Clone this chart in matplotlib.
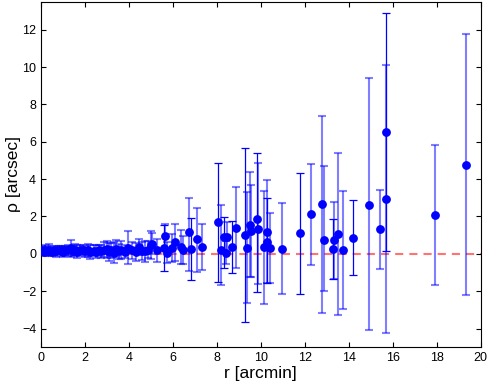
import numpy as np
import matplotlib.pyplot as plt

plt.rcParams['font.family'] = ['Liberation Sans', 'DejaVu Sans']

# inner region (small errors), light error bars
r_in = [0.05, 0.12, 0.2, 0.3, 0.38, 0.5, 0.58, 0.7, 0.8, 0.9, 1.0, 1.1, 1.25, 1.38,
        1.45, 1.55, 1.65, 1.78, 1.9, 2.0, 2.12, 2.25, 2.4, 2.5, 2.62, 2.75, 2.85,
        3.0, 3.08, 3.18, 3.3, 3.42, 3.55, 3.65, 3.8, 3.97, 4.15, 4.3, 4.45, 4.58,
        4.73, 4.85, 4.99]
rho_in = [0.18, 0.12, 0.2, 0.15, 0.22, 0.1, 0.18, 0.14, 0.2, 0.16, 0.12, 0.18, 0.2, 0.3,
          0.15, 0.22, 0.12, 0.18, 0.2, 0.14, 0.2, 0.1, 0.16, 0.12, 0.2, 0.15, 0.22,
          0.25, 0.1, 0.2, 0.07, 0.28, 0.15, 0.2, 0.12, 0.34, 0.2, 0.1, 0.37, 0.15,
          0.14, 0.22, 0.5]
err_in = [0.25, 0.2, 0.3, 0.25, 0.3, 0.2, 0.25, 0.3, 0.2, 0.25, 0.3, 0.25, 0.3, 0.45,
          0.25, 0.3, 0.35, 0.3, 0.25, 0.3, 0.35, 0.4, 0.3, 0.35, 0.3, 0.35, 0.4,
          0.45, 0.5, 0.4, 0.55, 0.45, 0.4, 0.5, 0.35, 0.88, 0.45, 0.5, 0.45, 0.5,
          0.55, 0.45, 0.75]

# outer region, light error bars
r_lt = [5.03, 5.26, 5.64, 5.71, 5.97, 6.09, 6.35, 6.47, 6.73, 7.09, 7.32, 8.18, 8.44,
        8.43, 8.85, 9.35, 9.49, 9.55, 9.88, 10.15, 10.3, 10.41, 10.94, 12.26, 12.8,
        12.86, 13.32, 13.51, 13.76, 14.9, 15.44, 15.69, 17.94, 19.35]
rho_lt = [0.55, 0.18, 0.94, 0.07, 0.29, 0.61, 0.36, 0.23, 1.17, 0.77, 0.36, 0.23, 0.91,
          0.07, 1.4, 0.34, 1.57, 1.23, 1.35, 0.36, 1.19, 0.31, 0.28, 2.15, 2.69,
          0.75, 0.73, 1.05, 0.2, 2.63, 1.31, 2.93, 2.06, 4.78]
lo_lt = [0.55, 0.62, 0.65, 0.55, 0.75, 1.0, 0.9, 0.75, 2.07, 1.73, 1.24, 1.9, 0.8,
         0.6, 2.17, 2.95, 2.8, 2.47, 2.97, 3.02, 2.75, 1.88, 2.42, 2.73, 5.87,
         2.73, 2.05, 4.32, 3.17, 6.72, 2.12, 7.17, 3.75, 7.0]
hi_lt = [0.55, 0.62, 0.65, 0.55, 0.75, 0.97, 0.9, 0.75, 1.81, 1.7, 1.24, 2.41, 0.8,
         0.6, 2.17, 2.95, 2.8, 2.47, 3.49, 3.02, 2.76, 1.88, 2.42, 2.67, 4.67,
         3.97, 2.05, 4.34, 3.17, 6.76, 2.12, 7.19, 3.75, 7.0]

# outer region, solid error bars
r_dk = [5.59, 6.83, 8.06, 8.33, 8.68, 9.29, 9.83, 10.3, 11.79, 13.3, 14.18, 15.71]
rho_dk = [0.32, 0.27, 1.69, 0.88, 0.37, 1.0, 1.89, 0.66, 1.11, 0.27, 0.87, 6.52]
lo_dk = [1.25, 1.67, 3.17, 1.66, 1.38, 4.67, 3.95, 2.22, 3.24, 1.6, 2.0, 6.37]
hi_dk = [1.25, 1.67, 3.15, 1.09, 1.38, 4.67, 3.53, 2.31, 3.24, 1.6, 2.0, 6.37]

fig = plt.figure(figsize=(4.87, 3.86), dpi=100)
ax = fig.add_axes([0.0842, 0.1003, 0.9028, 0.8955])

ax.axhline(0, color=(1, 0.45, 0.45), ls='--', lw=1.5, dashes=(3.9, 2.9), zorder=1)

ax.errorbar(r_in, rho_in, yerr=err_in, fmt='none', ecolor=(0, 0, 1, 0.5),
            elinewidth=1.5, capsize=3.1, capthick=1.5, zorder=2)
ax.errorbar(r_lt, rho_lt, yerr=[lo_lt, hi_lt], fmt='none', ecolor=(0, 0, 1, 0.5),
            elinewidth=1.5, capsize=3.1, capthick=1.5, zorder=2)
ax.errorbar(r_dk, rho_dk, yerr=[lo_dk, hi_dk], fmt='none', ecolor='b',
            elinewidth=0.9, capsize=3.1, capthick=0.9, zorder=3)

for rr, pp in [(r_in, rho_in), (r_lt, rho_lt), (r_dk, rho_dk)]:
    ax.plot(rr, pp, 'o', color='b', ms=5.3, zorder=4)

ax.set_xlim(0, 20)
ax.set_ylim(-5, 13.5)
ax.set_xticks(np.arange(0, 21, 2))
ax.set_yticks(np.arange(-4, 13, 2))
ax.tick_params(direction='in', top=True, right=True, labelsize=9, length=3.5)
for s in ax.spines.values():
    s.set_linewidth(0.8)

ax.set_xlabel('r [arcmin]', fontsize=12.5, labelpad=1)
ax.set_ylabel('ρ [arcsec]', fontsize=12.5, labelpad=1)

fig.savefig('out.png', dpi=100)
